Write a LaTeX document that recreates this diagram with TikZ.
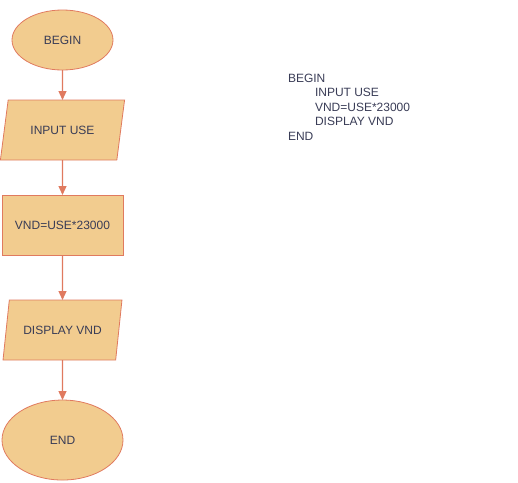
\documentclass[tikz,border=0pt]{standalone}
\usepackage{fontspec}
\setmainfont{Liberation Sans}
\usetikzlibrary{shapes.geometric,positioning,arrows.meta}
\definecolor{boxfill}{HTML}{F2CC8F}
\definecolor{boxline}{HTML}{E07A5F}
\definecolor{boxtext}{HTML}{393C56}
\begin{document}
\begin{tikzpicture}[x=1pt,y=-1pt, node distance=30pt,
  every node/.style={font=\fontsize{12}{14.5}\selectfont,text=boxtext,outer sep=0pt},
  every edge/.style={draw=boxline,line width=1.2pt,-{Triangle[length=9pt,width=8pt]}},
  term/.style={ellipse,draw=boxline,fill=boxfill,line width=0.8pt},
  io/.style={trapezium,trapezium left angle=71.6,trapezium right angle=108.4,trapezium stretches=true,
    minimum width=125pt,minimum height=60pt,draw=boxline,fill=boxfill,line width=0.8pt},
  proc/.style={rectangle,draw=boxline,fill=boxfill,minimum width=121pt,minimum height=60pt,line width=0.8pt}]
      \useasboundingbox (0,0) rectangle (518,482);
      \node [term,minimum width=101pt,minimum height=60pt] (begin) at (62.5,40) {BEGIN};
      \node [io] (input) [below=30pt of begin] {INPUT USE};
      \node [proc] (calc) [below=35pt of input] {VND=USE*23000};
      \node [io,minimum width=119pt] (show) [below=45pt of calc] {DISPLAY VND};
      \node [term,minimum width=121pt,minimum height=80pt] (end) [below=40pt of show] {END};
      \path
      (begin) edge (input)
      (input) edge (calc)
      (calc) edge (show)
      (show) edge (end)
      ;
      % pseudo code, anchored on its last line
      \node [anchor=base west,align=left,inner sep=0pt] (code) at (288,140)
        {BEGIN\\\hspace*{27pt}INPUT USE\\\hspace*{27pt}VND=USE*23000\\\hspace*{27pt}DISPLAY VND\\END};
\end{tikzpicture}
\end{document}
